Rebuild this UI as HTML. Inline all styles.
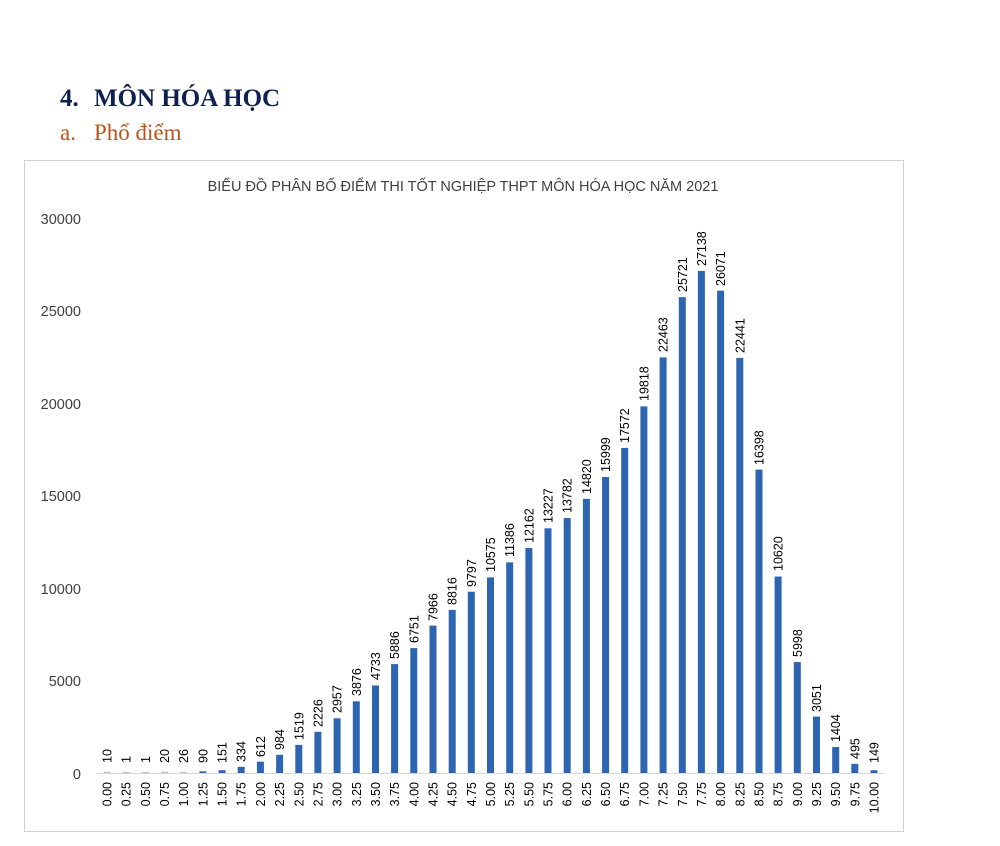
<!DOCTYPE html>
<html><head><meta charset="utf-8"><style>
body{margin:0;background:#fff;width:1000px;height:846px;overflow:hidden}
svg{display:block}
</style></head><body>
<svg width="1000" height="846" xmlns="http://www.w3.org/2000/svg">
<text x="60" y="106" font-family="Liberation Serif, serif" font-weight="bold" font-size="25" fill="#0f2150">4.</text>
<text x="94" y="106" font-family="Liberation Serif, serif" font-weight="bold" font-size="25" fill="#0f2150">MÔN HÓA HỌC</text>
<text x="60" y="140" font-family="Liberation Serif, serif" font-size="23" fill="#b9541c">a.</text>
<text x="94" y="140" font-family="Liberation Serif, serif" font-size="23" fill="#b9541c">Phổ điểm</text>
<rect x="24.5" y="160.5" width="879" height="671" fill="#fff" stroke="#d0d0d0"/>
<text x="463" y="191" text-anchor="middle" font-family="Liberation Sans, sans-serif" font-size="14.5" fill="#404040">BIỂU ĐỒ PHÂN BỐ ĐIỂM THI TỐT NGHIỆP THPT MÔN HÓA HỌC NĂM 2021</text>
<g font-family="Liberation Sans, sans-serif" font-size="14.5" fill="#404040" text-anchor="end">
<text x="81" y="224">30000</text><text x="81" y="316">25000</text><text x="81" y="409">20000</text><text x="81" y="501">15000</text><text x="81" y="594">10000</text><text x="81" y="686">5000</text><text x="81" y="779">0</text>
</g>
<line x1="97" y1="773.5" x2="884" y2="773.5" stroke="#d9d9d9"/>
<g transform="translate(0,773) scale(1,-0.0185)" fill="#2e65b1">
<rect x="103.5" y="0" width="7" height="60" fill="#a9c0e0"/><rect x="122.7" y="0" width="7" height="60" fill="#a9c0e0"/><rect x="141.9" y="0" width="7" height="60" fill="#a9c0e0"/><rect x="161" y="0" width="7" height="60" fill="#a9c0e0"/><rect x="180.2" y="0" width="7" height="60" fill="#a9c0e0"/>
<rect x="199.4" y="0" width="7" height="90"/><rect x="218.6" y="0" width="7" height="151"/><rect x="237.7" y="0" width="7" height="334"/><rect x="256.9" y="0" width="7" height="612"/><rect x="276.1" y="0" width="7" height="984"/><rect x="295.3" y="0" width="7" height="1519"/><rect x="314.4" y="0" width="7" height="2226"/><rect x="333.6" y="0" width="7" height="2957"/><rect x="352.8" y="0" width="7" height="3876"/><rect x="372" y="0" width="7" height="4733"/><rect x="391.1" y="0" width="7" height="5886"/><rect x="410.3" y="0" width="7" height="6751"/><rect x="429.5" y="0" width="7" height="7966"/><rect x="448.7" y="0" width="7" height="8816"/><rect x="467.8" y="0" width="7" height="9797"/><rect x="487" y="0" width="7" height="10575"/><rect x="506.2" y="0" width="7" height="11386"/><rect x="525.4" y="0" width="7" height="12162"/><rect x="544.5" y="0" width="7" height="13227"/><rect x="563.7" y="0" width="7" height="13782"/><rect x="582.9" y="0" width="7" height="14820"/><rect x="602.1" y="0" width="7" height="15999"/><rect x="621.2" y="0" width="7" height="17572"/><rect x="640.4" y="0" width="7" height="19818"/><rect x="659.6" y="0" width="7" height="22463"/><rect x="678.8" y="0" width="7" height="25721"/><rect x="697.9" y="0" width="7" height="27138"/><rect x="717.1" y="0" width="7" height="26071"/><rect x="736.3" y="0" width="7" height="22441"/><rect x="755.5" y="0" width="7" height="16398"/><rect x="774.6" y="0" width="7" height="10620"/><rect x="793.8" y="0" width="7" height="5998"/><rect x="813" y="0" width="7" height="3051"/><rect x="832.2" y="0" width="7" height="1404"/><rect x="851.3" y="0" width="7" height="495"/><rect x="870.5" y="0" width="7" height="149"/>
</g>
<g font-family="Liberation Sans, sans-serif" font-size="12.5" fill="#000">
<text transform="translate(111.5,763) rotate(-90)">10</text>
<text transform="translate(130.7,763) rotate(-90)">1</text>
<text transform="translate(149.9,763) rotate(-90)">1</text>
<text transform="translate(169,763) rotate(-90)">20</text>
<text transform="translate(188.2,763) rotate(-90)">26</text>
<text transform="translate(207.4,763) rotate(-90)">90</text>
<text transform="translate(226.6,763) rotate(-90)">151</text>
<text transform="translate(245.7,762) rotate(-90)">334</text>
<text transform="translate(264.9,757) rotate(-90)">612</text>
<text transform="translate(284.1,750) rotate(-90)">984</text>
<text transform="translate(303.3,740) rotate(-90)">1519</text>
<text transform="translate(322.4,727) rotate(-90)">2226</text>
<text transform="translate(341.6,713) rotate(-90)">2957</text>
<text transform="translate(360.8,696) rotate(-90)">3876</text>
<text transform="translate(380,680) rotate(-90)">4733</text>
<text transform="translate(399.1,659) rotate(-90)">5886</text>
<text transform="translate(418.3,643) rotate(-90)">6751</text>
<text transform="translate(437.5,621) rotate(-90)">7966</text>
<text transform="translate(456.7,605) rotate(-90)">8816</text>
<text transform="translate(475.8,587) rotate(-90)">9797</text>
<text transform="translate(495,572) rotate(-90)">10575</text>
<text transform="translate(514.2,557) rotate(-90)">11386</text>
<text transform="translate(533.4,543) rotate(-90)">12162</text>
<text transform="translate(552.5,523) rotate(-90)">13227</text>
<text transform="translate(571.7,513) rotate(-90)">13782</text>
<text transform="translate(590.9,494) rotate(-90)">14820</text>
<text transform="translate(610.1,472) rotate(-90)">15999</text>
<text transform="translate(629.2,443) rotate(-90)">17572</text>
<text transform="translate(648.4,401) rotate(-90)">19818</text>
<text transform="translate(667.6,352) rotate(-90)">22463</text>
<text transform="translate(686.8,292) rotate(-90)">25721</text>
<text transform="translate(705.9,266) rotate(-90)">27138</text>
<text transform="translate(725.1,286) rotate(-90)">26071</text>
<text transform="translate(744.3,353) rotate(-90)">22441</text>
<text transform="translate(763.5,465) rotate(-90)">16398</text>
<text transform="translate(782.6,571) rotate(-90)">10620</text>
<text transform="translate(801.8,657) rotate(-90)">5998</text>
<text transform="translate(821,712) rotate(-90)">3051</text>
<text transform="translate(840.2,742) rotate(-90)">1404</text>
<text transform="translate(859.3,759) rotate(-90)">495</text>
<text transform="translate(878.5,763) rotate(-90)">149</text>
</g>
<g font-family="Liberation Sans, sans-serif" font-size="12.5" fill="#000" text-anchor="end">
<text transform="translate(111.5,782) rotate(-90)">0.00</text>
<text transform="translate(130.7,782) rotate(-90)">0.25</text>
<text transform="translate(149.9,782) rotate(-90)">0.50</text>
<text transform="translate(169,782) rotate(-90)">0.75</text>
<text transform="translate(188.2,782) rotate(-90)">1.00</text>
<text transform="translate(207.4,782) rotate(-90)">1.25</text>
<text transform="translate(226.6,782) rotate(-90)">1.50</text>
<text transform="translate(245.7,782) rotate(-90)">1.75</text>
<text transform="translate(264.9,782) rotate(-90)">2.00</text>
<text transform="translate(284.1,782) rotate(-90)">2.25</text>
<text transform="translate(303.3,782) rotate(-90)">2.50</text>
<text transform="translate(322.4,782) rotate(-90)">2.75</text>
<text transform="translate(341.6,782) rotate(-90)">3.00</text>
<text transform="translate(360.8,782) rotate(-90)">3.25</text>
<text transform="translate(380,782) rotate(-90)">3.50</text>
<text transform="translate(399.1,782) rotate(-90)">3.75</text>
<text transform="translate(418.3,782) rotate(-90)">4.00</text>
<text transform="translate(437.5,782) rotate(-90)">4.25</text>
<text transform="translate(456.7,782) rotate(-90)">4.50</text>
<text transform="translate(475.8,782) rotate(-90)">4.75</text>
<text transform="translate(495,782) rotate(-90)">5.00</text>
<text transform="translate(514.2,782) rotate(-90)">5.25</text>
<text transform="translate(533.4,782) rotate(-90)">5.50</text>
<text transform="translate(552.5,782) rotate(-90)">5.75</text>
<text transform="translate(571.7,782) rotate(-90)">6.00</text>
<text transform="translate(590.9,782) rotate(-90)">6.25</text>
<text transform="translate(610.1,782) rotate(-90)">6.50</text>
<text transform="translate(629.2,782) rotate(-90)">6.75</text>
<text transform="translate(648.4,782) rotate(-90)">7.00</text>
<text transform="translate(667.6,782) rotate(-90)">7.25</text>
<text transform="translate(686.8,782) rotate(-90)">7.50</text>
<text transform="translate(705.9,782) rotate(-90)">7.75</text>
<text transform="translate(725.1,782) rotate(-90)">8.00</text>
<text transform="translate(744.3,782) rotate(-90)">8.25</text>
<text transform="translate(763.5,782) rotate(-90)">8.50</text>
<text transform="translate(782.6,782) rotate(-90)">8.75</text>
<text transform="translate(801.8,782) rotate(-90)">9.00</text>
<text transform="translate(821,782) rotate(-90)">9.25</text>
<text transform="translate(840.2,782) rotate(-90)">9.50</text>
<text transform="translate(859.3,782) rotate(-90)">9.75</text>
<text transform="translate(878.5,782) rotate(-90)">10.00</text>
</g>
</svg>
</body></html>
